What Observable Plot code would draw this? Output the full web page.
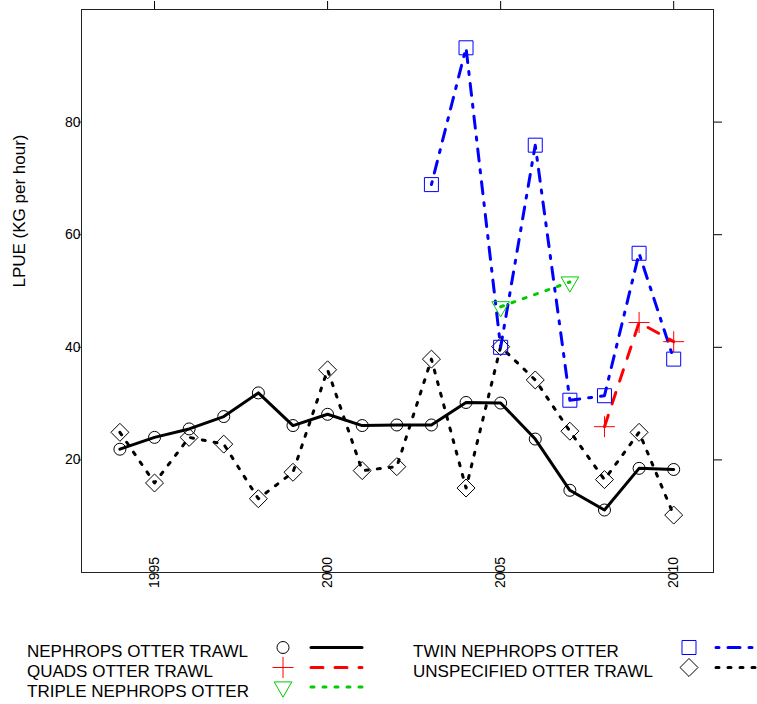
<!DOCTYPE html>
<html>
<head>
<meta charset="utf-8">
<script src="https://cdn.jsdelivr.net/npm/d3@7"></script>
<script src="https://cdn.jsdelivr.net/npm/@observablehq/plot@0.6"></script>
<style>
  html, body { margin: 0; padding: 0; background: #fff; }
  #chart svg, #legend svg { display: block; }
</style>
</head>
<body>
<div id="chart"></div>
<div id="legend"></div>
<script>
// ---- data ----
const years = [1994, 1995, 1996, 1997, 1998, 1999, 2000, 2001, 2002, 2003, 2004, 2005, 2006, 2007, 2008, 2009, 2010];
const nephropsOtter = [21.9, 24.0, 25.5, 27.7, 31.9, 26.1, 28.1, 26.1, 26.2, 26.2, 30.2, 30.1, 23.7, 14.6, 11.1, 18.5, 18.3];
const unspecifiedOtter = [24.9, 15.9, 24.0, 22.8, 13.1, 17.8, 36.0, 18.1, 18.8, 37.9, 15.0, 40.1, 34.2, 25.1, 16.5, 24.9, 10.2];
const twinYears = [2003, 2004, 2005, 2006, 2007, 2008, 2009, 2010];
const twinNephrops = [68.9, 93.2, 40.0, 75.9, 30.6, 31.4, 56.7, 37.9];
const quadsYears = [2008, 2009, 2010];
const quadsOtter = [25.9, 44.4, 41.0];
const tripleYears = [2005, 2007];
const tripleNephrops = [47.2, 51.6];

const xTicks = [1995, 2000, 2005, 2010];
const yTicks = [20, 40, 60, 80];
const yLabel = "LPUE (KG per hour)";

// series styles
const series = [
  {name: "NEPHROPS OTTER TRAWL", x: years, y: nephropsOtter, color: "#000000", symbol: "circle", r: 6, dash: null, rotate: 0},
  {name: "QUADS OTTER TRAWL", x: quadsYears, y: quadsOtter, color: "#ff0000", symbol: "plus", r: 6.8, dash: "12,12", rotate: 0},
  {name: "TRIPLE NEPHROPS OTTER", x: tripleYears, y: tripleNephrops, color: "#00cc00", symbol: "triangle2", r: 8.4, dash: "3,9", rotate: 180},
  {name: "TWIN NEPHROPS OTTER", x: twinYears, y: twinNephrops, color: "#0000ff", symbol: "square", r: 7.9, dash: "3,9,12,9", rotate: 0},
  {name: "UNSPECIFIED OTTER TRAWL", x: years, y: unspecifiedOtter, color: "#000000", symbol: "diamond2", r: 8.1, dash: "3,9", rotate: 0}
];
const drawOrder = [0, 4, 3, 1, 2];

const font = "'Liberation Sans', Arial, Helvetica, sans-serif";

const marks = [];
for (const i of drawOrder) {
  const s = series[i];
  const rows = s.x.map((x, k) => ({x, y: s.y[k]}));
  marks.push(Plot.line(rows, {x: "x", y: "y", stroke: s.color, strokeWidth: 3,
    strokeDasharray: s.dash || undefined, strokeLinecap: "round", strokeLinejoin: "round"}));
}
for (const i of drawOrder) {
  const s = series[i];
  const rows = s.x.map((x, k) => ({x, y: s.y[k]}));
  marks.push(Plot.dot(rows, {x: "x", y: "y", symbol: () => s.symbol, r: s.r, stroke: s.color,
    strokeWidth: 1, fill: "none", rotate: s.rotate}));
}

const chart = Plot.plot({
  width: 757,
  height: 610,
  marginTop: 9,
  marginBottom: 38,
  marginLeft: 81,
  marginRight: 44,
  style: {fontFamily: font, fontSize: "14px", background: "#fff", color: "#000"},
  x: {domain: [1992.89, 2011.15], axis: null},
  y: {domain: [0, 100], axis: null},
  symbol: {type: "identity"},
  marks: [
    Plot.axisX({anchor: "top", ticks: xTicks, tickSize: 9, tickFormat: () => "", label: null}),
    Plot.axisY({anchor: "right", ticks: yTicks, tickSize: 8, tickFormat: () => "", label: null}),
    Plot.axisY({anchor: "left", ticks: yTicks, tickSize: 3, tickPadding: -2, fontSize: 14, label: null, stroke: "#444"}),
    Plot.text(xTicks, {x: d => d, frameAnchor: "bottom", text: d => String(d), rotate: -90,
      textAnchor: "middle", lineAnchor: "middle", fontSize: 14, fill: "#000"}),
    Plot.text([yLabel], {frameAnchor: "left", text: d => d, rotate: -90, dx: -57, dy: -80,
      textAnchor: "middle", lineAnchor: "bottom", fontSize: 17, fill: "#000"}),
    ...marks,
    Plot.frame({stroke: "#222", strokeWidth: 1})
  ]
});
document.getElementById("chart").appendChild(chart);

// ---- legend (below the chart) ----
const legendCols = [
  {items: [0, 1, 2], textX: 27, symX: 283, lineX0: 311, lineX1: 362},
  {items: [3, 4], textX: 413, symX: 689, lineX0: 716, lineX1: 762}
];
const legTop = 610;
const rowY = [647.5 - legTop, 667.5 - legTop, 687 - legTop];
const lsvg = d3.select("#legend").append("svg")
  .attr("width", 757).attr("height", 94)
  .style("font-family", font);
const symGen = {
  circle: d3.symbolCircle, plus: d3.symbolPlus, triangle2: d3.symbolTriangle2,
  square: d3.symbolSquare, diamond2: d3.symbolDiamond2
};
for (const col of legendCols) {
  col.items.forEach((si, row) => {
    const s = series[si];
    const y = rowY[row];
    lsvg.append("text").attr("x", col.textX).attr("y", y + 4)
      .attr("dominant-baseline", "central")
      .attr("font-size", 17).attr("fill", "#000").text(s.name);
    lsvg.append("path")
      .attr("d", d3.symbol(symGen[s.symbol], s.r * s.r * Math.PI)())
      .attr("transform", `translate(${col.symX},${y}) rotate(${s.rotate})`)
      .attr("fill", "none").attr("stroke", s.color).attr("stroke-width", 1);
    lsvg.append("line")
      .attr("x1", col.lineX0).attr("x2", col.lineX1).attr("y1", y).attr("y2", y)
      .attr("stroke", s.color).attr("stroke-width", 3).attr("stroke-linecap", "round")
      .attr("stroke-dasharray", s.dash || null);
  });
}
</script>
</body>
</html>
